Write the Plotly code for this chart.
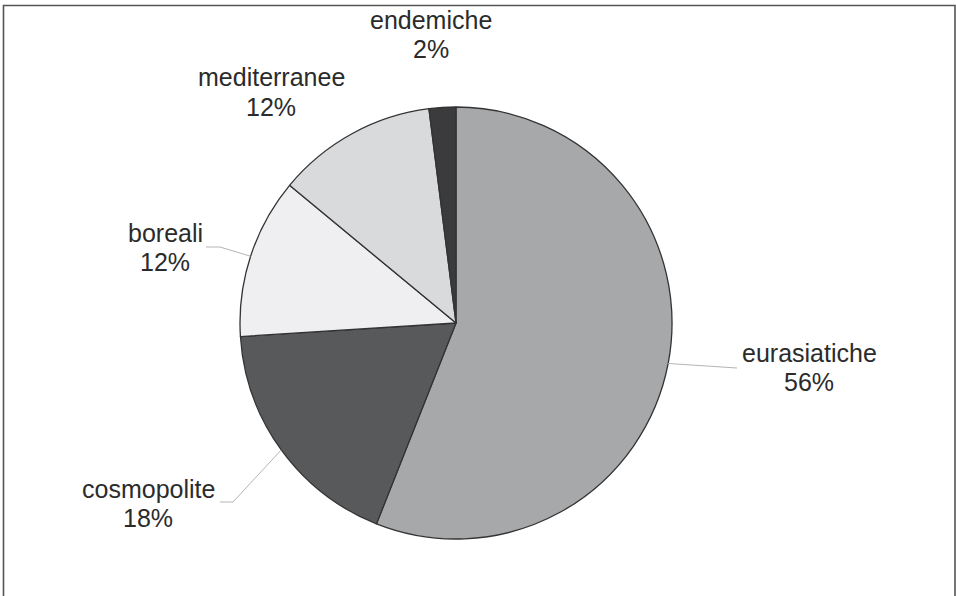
import math
import plotly.graph_objects as go

# Chorological spectrum of the flora
categories = ["eurasiatiche", "cosmopolite", "boreali", "mediterranee", "endemiche"]
shares = [56, 18, 12, 12, 2]
slice_colors = ["#a7a8aa", "#58595b", "#efeff1", "#d9dadc", "#3b3b3d"]

W, H = 956, 596
CX, CY, R = 456, 323, 216  # pie centre and radius in pixels
LINE_GAP = 29              # distance between the name and percentage lines

# label block centres (pixels) and optional leader-line elbows
label_pos = {
    "eurasiatiche": (809, 367),
    "cosmopolite": (148, 503),
    "boreali": (165, 247),
    "mediterranee": (271, 92),
    "endemiche": (431, 34),
}
leader_elbow = {
    "eurasiatiche": [(737, 368)],
    "cosmopolite": [(233, 502), (220, 502)],
    "boreali": [(220, 247), (206, 247)],
}


def px(x):
    return x / W


def py(y):
    return 1 - y / H


fig = go.Figure(
    go.Pie(
        labels=categories,
        values=shares,
        sort=False,
        direction="clockwise",
        rotation=0,
        marker=dict(colors=slice_colors, line=dict(color="#333333", width=1.3)),
        textinfo="none",
        hoverinfo="label+percent",
        showlegend=False,
        domain=dict(x=[px(CX - R), px(CX + R)], y=[py(CY + R), py(CY - R)]),
    )
)

label_font = dict(family="Liberation Sans, Arial, sans-serif", size=25, color="#2b2b2b")

total = sum(shares)
cum = 0
shapes = []
annotations = []
for name, v in zip(categories, shares):
    mid = (cum + v / 2) / total * 2 * math.pi
    cum += v
    ax = CX + R * math.sin(mid)
    ay = CY - R * math.cos(mid)
    if name in leader_elbow:
        pts = [(ax, ay)] + leader_elbow[name]
        path = "M " + " L ".join(f"{px(x)},{py(y)}" for x, y in pts)
        shapes.append(dict(type="path", xref="paper", yref="paper", path=path,
                           line=dict(color="#b5b5b5", width=1)))
    lx, ly = label_pos[name]
    pct = round(v / total * 100)
    for text, dy in ((name, -LINE_GAP / 2), (f"{pct}%", LINE_GAP / 2)):
        annotations.append(dict(
            x=px(lx), y=py(ly + dy), xref="paper", yref="paper",
            text=text, showarrow=False,
            xanchor="center", yanchor="middle", align="center",
            font=label_font,
        ))

# outer frame (open at the bottom edge)
shapes.append(dict(type="path", xref="paper", yref="paper",
                   path=f"M {px(3.5)},-0.1 L {px(3.5)},{py(5.5)} L {px(955)},{py(5.5)} L {px(955)},-0.1",
                   line=dict(color="#555555", width=1.6)))

fig.update_layout(
    width=W, height=H,
    margin=dict(l=0, r=0, t=0, b=0),
    paper_bgcolor="white", plot_bgcolor="white",
    shapes=shapes, annotations=annotations,
)

fig.write_html("out.html")
